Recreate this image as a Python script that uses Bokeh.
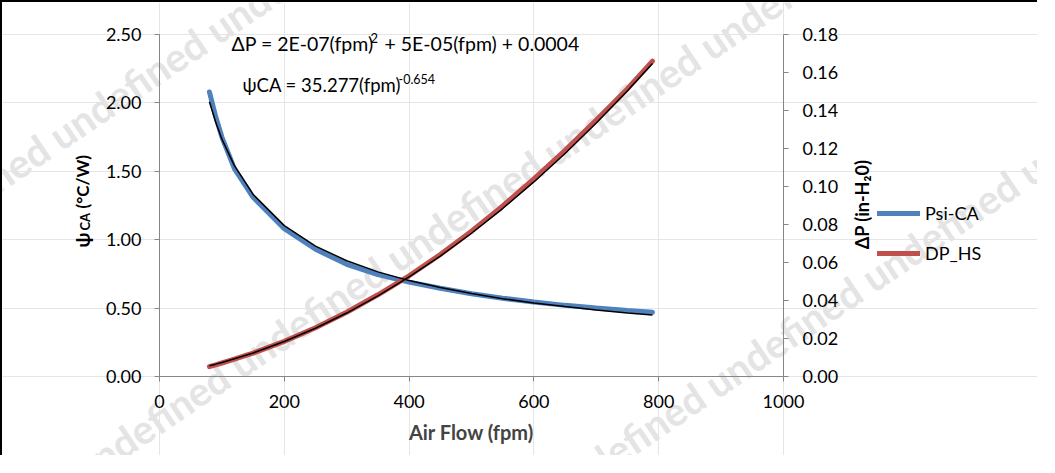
from math import pi, atan
from bokeh.plotting import figure
from bokeh.models import (Range1d, LinearAxis, Label, Legend, LegendItem,
                          FixedTicker, NumeralTickFormatter)
from bokeh.embed import file_html
from bokeh.resources import INLINE

# ---------------- data ----------------
fpm = [80, 90, 100, 120, 150, 200, 250, 300, 350, 400, 450, 500, 550, 600, 650, 700, 750, 790]
psi_ca = [2.08, 1.90, 1.75, 1.52, 1.31, 1.08, 0.93, 0.82, 0.745, 0.69, 0.645, 0.605, 0.572,
          0.545, 0.52, 0.50, 0.483, 0.47]
dp_hs = [0.0052, 0.0061, 0.0071, 0.0091, 0.0123, 0.0185, 0.0257, 0.0338, 0.0430, 0.0530,
         0.0642, 0.0765, 0.0898, 0.1040, 0.1190, 0.1350, 0.1515, 0.1660]
# trendlines as drawn (black)
psi_trend = [2.009, 1.860, 1.735, 1.541, 1.331, 1.103, 0.953, 0.846, 0.765, 0.701, 0.650,
             0.606, 0.569, 0.538, 0.511, 0.486, 0.465, 0.449]
dp_trend = [0.0057, 0.0065, 0.0074, 0.0093, 0.0124, 0.0184, 0.0254, 0.0334, 0.0424, 0.0524,
            0.0634, 0.0754, 0.0884, 0.1024, 0.1174, 0.1334, 0.1504, 0.1647]

x_ticks = [0, 200, 400, 600, 800, 1000]
psi_ticks = [0.0, 0.5, 1.0, 1.5, 2.0, 2.5]
dp_ticks = [0.0, 0.02, 0.04, 0.06, 0.08, 0.10, 0.12, 0.14, 0.16, 0.18]

series_names = ["Psi-CA", "DP_HS"]
eq_dp = ["ΔP = 2E-07(fpm)", "2", "+ 5E-05(fpm) + 0.0004"]
eq_psi = ["ψCA = 35.277(fpm)", "-0.654"]
x_title = "Air Flow (fpm)"
y_title = ["ψ", "CA", "(°C/W)"]
y2_title = "ΔP (in-H₂0)"
watermark = "undefined undefined undefined undefined undefined undefined undefined"

FONT = "Lato"
AX = "#868686"

# ---------------- layout geometry (page pixels) ----------------
W, H = 1037, 455
CX0, CY0 = 10, 10            # canvas origin on the page (8px margin + 2px border)
PX0, PX1 = 167, 791           # x = 0 and x = 1000
PY0, PY1 = 384, 42            # y = 0 and y = max
sx = (PX1 - PX0) / 1000.0
xs = -(PX0 - CX0) / sx
xe = xs + W / sx

def yr(vmax):
    u = vmax / (PY0 - PY1)
    return Range1d(-(CY0 + H - PY0) * u, vmax + (PY1 - CY0) * u)

p = figure(width=W, height=H, output_backend="svg", toolbar_location=None, title=None,
           x_range=Range1d(xs, xe), y_range=yr(2.5),
           x_axis_location=None, y_axis_location=None,
           min_border_left=0, min_border_right=0, min_border_top=0, min_border_bottom=0)
p.styles = {"border-left": "2px solid black", "border-top": "2px solid black"}
p.extra_y_ranges = {"dp": yr(0.18)}
p.outline_line_color = None
p.background_fill_color = "white"
p.border_fill_color = "white"

def fx(px):
    return (px - PX0) / sx

def fy(py):
    return (PY0 - py) * 2.5 / (PY0 - PY1)

# ---------------- watermark ----------------
slope = 0.677
ang = atan(slope)
for start_px, c in [(-96, 188), (84, 538), (403, 880)]:
    p.add_layout(Label(x=fx(start_px), y=fy(c - slope * start_px), text=watermark, angle=ang,
                       text_align="left", text_baseline="middle",
                       text_font=FONT, text_font_style="bold", text_font_size="40px",
                       text_color="#e4e4e4", level="underlay"))

# ---------------- axes ----------------
def style_axis(ax):
    ax.axis_line_color = AX
    ax.axis_line_width = 1
    ax.major_tick_line_color = AX
    ax.minor_tick_line_color = None
    ax.major_tick_in = 0
    ax.major_tick_out = 5
    ax.major_label_text_font = FONT
    ax.major_label_text_font_size = "18px"
    ax.major_label_text_color = "black"

xa = LinearAxis(fixed_location=0, bounds=(0, 1000), ticker=FixedTicker(ticks=x_ticks))
style_axis(xa)
xa.major_label_standoff = 13
xa.axis_label = x_title
xa.axis_label_text_font = FONT
xa.axis_label_text_font_style = "bold"
xa.axis_label_text_font_size = "20px"
xa.axis_label_standoff = 9
p.add_layout(xa, "below")

ya = LinearAxis(fixed_location=0, bounds=(0, 2.5), ticker=FixedTicker(ticks=psi_ticks),
                formatter=NumeralTickFormatter(format="0.00"))
style_axis(ya)
ya.major_label_standoff = 13
p.add_layout(ya, "left")

ra = LinearAxis(y_range_name="dp", fixed_location=1000, bounds=(0, 0.18),
                ticker=FixedTicker(ticks=dp_ticks), formatter=NumeralTickFormatter(format="0.00"))
style_axis(ra)
ra.major_label_standoff = 14
p.add_layout(ra, "right")

# ---------------- series ----------------
r_blue = p.line(fpm, psi_ca, line_color="#4F81BD", line_width=5, line_cap="round")
r_red = p.line(fpm, dp_hs, line_color="#C0504D", line_width=5, line_cap="round", y_range_name="dp")
p.line(fpm, psi_trend, line_color="black", line_width=1.5)
p.line(fpm, dp_trend, line_color="black", line_width=1.5, y_range_name="dp")

# ---------------- legend ----------------
legend = Legend(items=[LegendItem(label=series_names[0], renderers=[r_blue]),
                       LegendItem(label=series_names[1], renderers=[r_red])],
                location=(885 - CX0, CY0 + H - 272), glyph_width=43, glyph_height=20,
                label_height=20, label_standoff=5, spacing=18, padding=0, margin=0,
                border_line_color=None, background_fill_alpha=0,
                label_text_font=FONT, label_text_font_size="18px", label_text_color="black")
p.add_layout(legend, "center")

# ---------------- texts ----------------
def lab(px, py, text, size="18px", style="normal", angle=0.0, align="left", base="alphabetic"):
    p.add_layout(Label(x=fx(px), y=fy(py), text=text, angle=angle, text_align=align,
                       text_baseline=base, text_font=FONT, text_font_size=size,
                       text_font_style=style, text_color="black"))

# (baseline offsets compensate the renderer's alphabetic-baseline shift)
lab(239, 51, eq_dp[0], size="19.5px")
lab(378, 45, eq_dp[1], size="13px")
lab(392, 51, eq_dp[2], size="19.5px")
lab(250, 92, eq_psi[0], size="18.5px")
lab(406, 86, eq_psi[1], size="12.5px")

# left axis title (rotated, with subscript)
lab(90, 255, y_title[0], size="19px", style="bold", angle=pi / 2)
lab(92, 238, y_title[1], size="13px", style="bold", angle=pi / 2)
lab(90, 216, y_title[2], size="17px", style="bold", angle=pi / 2)

# right axis title
lab(869, 212, y2_title, size="18px", style="bold", angle=pi / 2, align="center")

open("out.html", "w").write(file_html(p, INLINE))
